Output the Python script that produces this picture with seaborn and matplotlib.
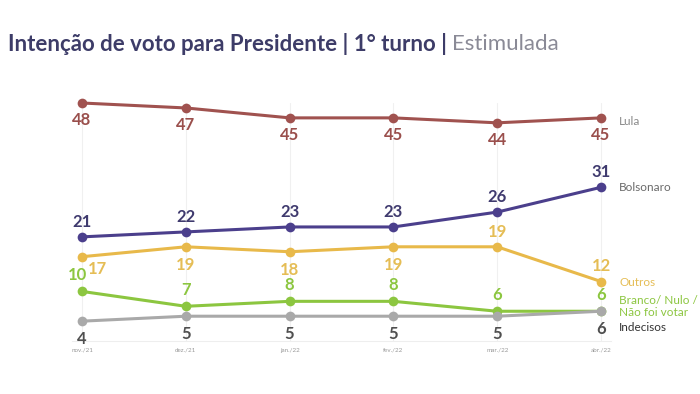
import numpy as np
import pandas as pd
import matplotlib
matplotlib.use("Agg")
import matplotlib.pyplot as plt
import seaborn as sns

## data
meses = ["nov./21", "dez./21", "jan./22", "fev./22", "mar./22", "abr./22"]
lula = [48, 47, 45, 45, 44, 45]
bolsonaro = [21, 22, 23, 23, 26, 31]
outros = [17, 19, 18, 19, 19, 12]
branco_nulo = [10, 7, 8, 8, 6, 6]
indecisos = [4, 5, 5, 5, 5, 6]

series = ["Lula", "Bolsonaro", "Outros", "Branco/ Nulo /\nNão foi votar", "Indecisos"]
valores = [lula, bolsonaro, outros, branco_nulo, indecisos]

cores_linha = ["#a0524f", "#4b3f8c", "#e8b94a", "#8cc640", "#a9a9a9"]
cores_valor = ["#9a4f4c", "#3f3a6e", "#e5bd55", "#8cc640", "#4f4f4f"]
cores_nome = ["#8a8a8a", "#6a6a6a", "#e5bd55", "#8cc640", "#333333"]

df = pd.DataFrame({
    "mes": np.tile(np.arange(len(meses)), len(series)),
    "valor": np.concatenate(valores),
    "serie": np.repeat(series, len(meses)),
})

sns.set_theme(style="white")
plt.rcParams["font.family"] = ["Lato", "DejaVu Sans"]

fig = plt.figure(figsize=(7, 3.94), dpi=100)
ax = fig.add_axes([71.6 / 700, 53 / 394, 539.8 / 700, 238 / 394])

sns.lineplot(data=df, x="mes", y="valor", hue="serie", hue_order=series,
             palette=cores_linha, marker="o", markersize=7, markeredgewidth=0,
             linewidth=2.2, legend=False, ax=ax)
for ln in ax.lines:
    ln.set_clip_on(False)

ax.set_xlim(-0.1, 5.1)
ax.set_ylim(0, 48)
ax.set_yticks([])
ax.set_xticks(range(len(meses)))
ax.set_xticklabels(meses, fontsize=4.5, color="#9a9a9a")
ax.tick_params(axis="x", length=0, pad=5)
ax.set_xlabel("")
ax.set_ylabel("")
for s in ["top", "right", "left"]:
    ax.spines[s].set_visible(False)
ax.spines["bottom"].set_color("#eeeeee")
ax.spines["bottom"].set_linewidth(0.8)
for i in range(len(meses)):
    ax.axvline(i, color="#f0f0f0", lw=0.8, zorder=0)

## value labels: offset in points (dx, dy)
def off(serie_idx, i):
    if serie_idx == 0:
        return (0, -12)
    if serie_idx == 1:
        return (0, 11)
    if serie_idx == 2:
        if i == 0:
            return (11, -9)
        if i >= 4:
            return (0, 11)
        return (0, -13)
    if serie_idx == 3:
        if i == 0:
            return (-3, 12)
        return (0, 12)
    return (0, -13)

for k, vals in enumerate(valores):
    for i, v in enumerate(vals):
        dx, dy = off(k, i)
        ax.annotate(str(v), (i, v), xytext=(dx, dy), textcoords="offset points",
                    ha="center", va="center", fontsize=12, fontweight="bold",
                    color=cores_valor[k], annotation_clip=False)

## series names at the right
nome_y = [44.2, 31, 11.8, 7.0, 2.75]
for k, nome in enumerate(series):
    ax.annotate(nome, (5, nome_y[k]), xytext=(13, 0),
                textcoords="offset points", ha="left", va="center",
                fontsize=8.5, color=cores_nome[k], linespacing=1.15,
                annotation_clip=False)

## title
t1 = fig.text(8 / 700, 1 - 44 / 394, "Intenção de voto para Presidente | 1° turno | ",
              fontsize=16, fontweight="bold", color="#3d3c68", va="center")
fig.canvas.draw()
bb = t1.get_window_extent(renderer=fig.canvas.get_renderer())
fig.text(bb.x1 / 700, 1 - 44 / 394, "Estimulada", fontsize=16,
         color="#8a8a96", va="center")

fig.savefig("out.png", dpi=100, facecolor="white")
